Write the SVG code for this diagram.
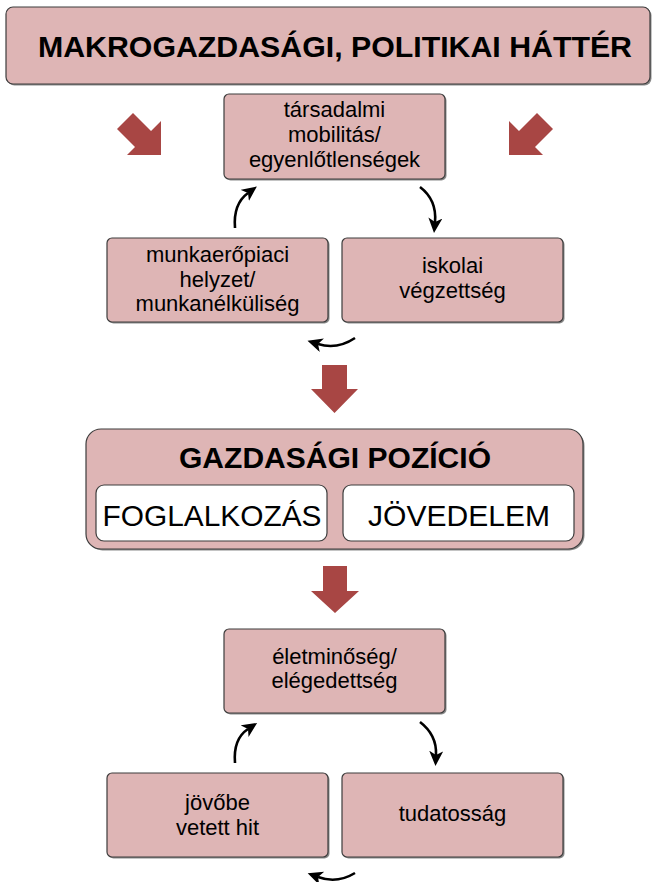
<svg xmlns="http://www.w3.org/2000/svg" width="655" height="882" viewBox="0 0 655 882">
<style>
.box{fill:#deb5b5;stroke:#3d3d3d;stroke-width:1.2}
.sh{fill:#8a8a8a}
.wbox{fill:#ffffff;stroke:#3d3d3d;stroke-width:1.2}
.big{fill:#a84644}
.t{font-family:"Liberation Sans",Arial,sans-serif;font-size:22px;fill:#000;text-anchor:middle}
.tb{font-family:"Liberation Sans",Arial,sans-serif;font-weight:bold;fill:#000;text-anchor:middle}
.tw{font-family:"Liberation Sans",Arial,sans-serif;font-size:29px;fill:#000;text-anchor:middle}
.cv{fill:none;stroke:#000;stroke-width:2.6}
</style>
<defs>
<marker id="ah" markerUnits="userSpaceOnUse" markerWidth="16" markerHeight="16" refX="4" refY="7" orient="auto">
<path d="M0,0 L15,7 L0,14 L4,7 z" fill="#000"/>
</marker>
</defs>

<g id="n-makro">
<rect class="sh" x="7.5" y="8.5" width="644" height="77" rx="7"/>
<rect class="box" x="6" y="7" width="644" height="77" rx="7"/>
<text class="tb" x="335" y="57" font-size="30" textLength="594" lengthAdjust="spacingAndGlyphs">MAKROGAZDASÁGI, POLITIKAI HÁTTÉR</text>
</g>

<g id="n-tarsadalmi">
<rect class="sh" x="225.5" y="95.5" width="221" height="85" rx="5"/>
<rect class="box" x="224" y="94" width="221" height="85" rx="5"/>
<text class="t" x="334.5" y="117">társadalmi</text>
<text class="t" x="334.5" y="142">mobilitás/</text>
<text class="t" x="334.5" y="167">egyenlőtlenségek</text>
</g>

<g id="n-munkaeropiaci">
<rect class="sh" x="108.5" y="239.5" width="221" height="84" rx="5"/>
<rect class="box" x="107" y="238" width="221" height="84" rx="5"/>
<text class="t" x="217.5" y="262">munkaerőpiaci</text>
<text class="t" x="217.5" y="287">helyzet/</text>
<text class="t" x="217.5" y="311">munkanélküliség</text>
</g>

<g id="n-iskolai">
<rect class="sh" x="343.5" y="239.5" width="221" height="84" rx="5"/>
<rect class="box" x="342" y="238" width="221" height="84" rx="5"/>
<text class="t" x="452.5" y="273">iskolai</text>
<text class="t" x="452.5" y="298">végzettség</text>
</g>

<g id="n-gazdasagi">
<rect class="sh" x="87.5" y="430.5" width="497" height="120" rx="15"/>
<rect class="box" x="86" y="429" width="497" height="120" rx="15"/>
<text class="tb" x="335" y="468" font-size="29" textLength="312" lengthAdjust="spacingAndGlyphs">GAZDASÁGI POZÍCIÓ</text>
<g id="n-foglalkozas">
<rect class="wbox" x="96" y="485" width="231" height="56" rx="8"/>
<text class="tw" x="212" y="526" textLength="219" lengthAdjust="spacingAndGlyphs">FOGLALKOZÁS</text>
</g>
<g id="n-jovedelem">
<rect class="wbox" x="343" y="485" width="231" height="56" rx="8"/>
<text class="tw" x="459" y="526" textLength="182" lengthAdjust="spacingAndGlyphs">JÖVEDELEM</text>
</g>
</g>

<g id="n-eletminoseg">
<rect class="sh" x="225.5" y="630.5" width="221" height="84" rx="5"/>
<rect class="box" x="224" y="629" width="221" height="84" rx="5"/>
<text class="t" x="334.5" y="664">életminőség/</text>
<text class="t" x="334.5" y="688">elégedettség</text>
</g>

<g id="n-jovobe">
<rect class="sh" x="108.5" y="774.5" width="221" height="84" rx="5"/>
<rect class="box" x="107" y="773" width="221" height="84" rx="5"/>
<text class="t" x="217.5" y="810">jövőbe</text>
<text class="t" x="217.5" y="835">vetett hit</text>
</g>

<g id="n-tudatossag">
<rect class="sh" x="343.5" y="774.5" width="221" height="84" rx="5"/>
<rect class="box" x="342" y="773" width="221" height="84" rx="5"/>
<text class="t" x="452.5" y="821">tudatosság</text>
</g>

<g id="connectors">
<polygon class="big" points="133,113 151,131 161,121 161,155 127,155 135,147 117,129"/>
<polygon class="big" points="537,113 519,131 509,121 509,155 543,155 535,147 553,129"/>
<polygon class="big" points="322,365 347,365 347,389 358,389 334.5,413 311,389 322,389"/>
<polygon class="big" points="323,566 347,566 347,591 359,591 335,613 311,591 323,591"/>
<path class="cv" d="M235,228 Q233,204 248,193" marker-end="url(#ah)"/>
<path class="cv" d="M420,187 Q437,200 435,222" marker-end="url(#ah)"/>
<path class="cv" d="M355,338 Q337,350 318,344" marker-end="url(#ah)"/>
<path class="cv" d="M235,763 Q233,739 248,729" marker-end="url(#ah)"/>
<path class="cv" d="M420,722 Q437,735 436,755" marker-end="url(#ah)"/>
<path class="cv" d="M355,873 Q337,884 318,877" marker-end="url(#ah)"/>
</g>
</svg>
